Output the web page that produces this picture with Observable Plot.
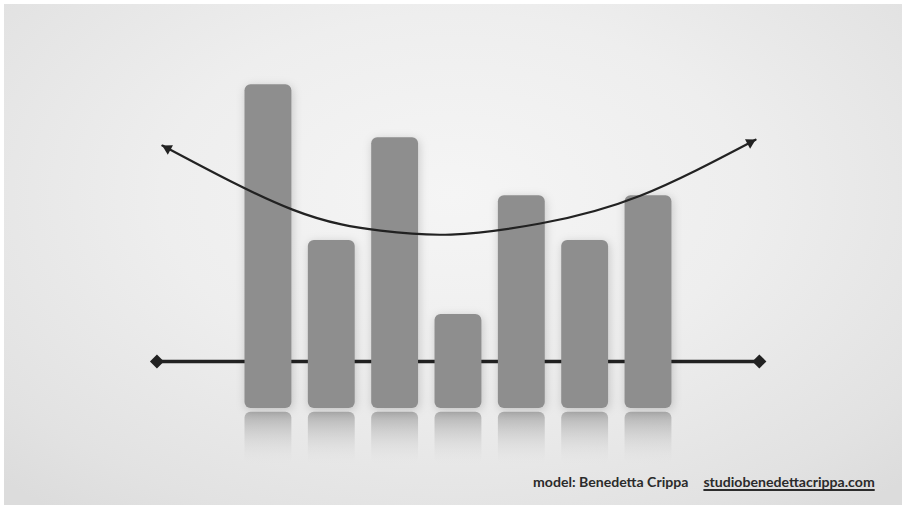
<!DOCTYPE html>
<html>
<head>
<meta charset="utf-8">
<script src="https://cdn.jsdelivr.net/npm/d3@7"></script>
<script src="https://cdn.jsdelivr.net/npm/@observablehq/plot@0.6"></script>
<style>
  html, body { margin: 0; padding: 0; background: #ffffff; }
  #wrap { position: relative; width: 902px; height: 505px; overflow: hidden; }
  #bg { position: absolute; left: 4px; top: 4px; width: 898px; height: 501px;
        background: radial-gradient(ellipse 72% 80% at 50% 38%, #f5f5f5 0%, #eeeeee 45%, #e2e2e2 85%, #dcdcdc 100%); }
  #chart { position: absolute; left: 0; top: 0; }
  #credit { position: absolute; left: 533px; top: 473px; font-family: Lato, "Open Sans", sans-serif;
            font-weight: 700; font-size: 14.1px; color: #2b2b2b; white-space: nowrap; }
  #credit a { color: #2b2b2b; text-decoration: underline; text-decoration-thickness: 1.5px;
              text-underline-offset: 2px; margin-left: 15px; }
</style>
</head>
<body>
<div id="wrap">
  <div id="bg"></div>
  <div id="chart"></div>
  <div id="credit">model: Benedetta Crippa<a>studiobenedettacrippa.com</a></div>
</div>
<script>
// ---- data ----
const categories = ["A", "B", "C", "D", "E", "F", "G"];
const values = [10.0, 5.19, 8.36, 2.90, 6.57, 5.19, 6.57];

const baselineX = [-1.76, 7.75];
const baselineY = [1.45, 1.45];

const curveX = [-1.674, 0.38, 1.77, 2.88, 4.29, 5.87, 7.69];
const curveY = [8.12, 6.14, 5.49, 5.37, 5.71, 6.57, 8.30];

// ---- derived tables ----
const xDomain = [-4.23, 10.01];
const yDomain = [-3.0, 12.6];
const W = 902, H = 505;
const kx = W / (xDomain[1] - xDomain[0]);
const ky = H / (yDomain[1] - yDomain[0]);

const bars = categories.map((c, i) => ({cat: c, i, v: values[i]}));
const halfW = 0.37;
const baseline = baselineX.map((x, i) => ({x, y: baselineY[i]}));
const curve = curveX.map((x, i) => ({x, y: curveY[i]}));

function arrowHead(tip, prev) {
  const dx = (tip.x - prev.x) * kx;
  const dy = -(tip.y - prev.y) * ky; // screen coords
  const len = Math.hypot(dx, dy);
  const ux = dx / len, uy = dy / len;
  const back = 6.0;
  return {
    x: tip.x - back * ux / kx,
    y: tip.y + back * uy / ky,
    rot: Math.atan2(ux, -uy) * 180 / Math.PI
  };
}
// direction taken from a point on the curve ~80px before each tip
const heads = [
  arrowHead(curve[0], {x: -0.44, y: 6.79}),
  arrowHead(curve[curve.length - 1], {x: 6.51, y: 7.04})
];

const fig = Plot.plot({
  width: W,
  height: H,
  margin: 0,
  style: {background: "transparent", overflow: "visible"},
  x: {domain: xDomain, axis: null},
  y: {domain: yDomain, axis: null},
  marks: [
    // reflections
    Plot.rectY(bars, {x1: d => d.i - halfW, x2: d => d.i + halfW, y1: -0.12, y2: -1.75,
      fill: "url(#refl)", rx: 6}),
    // baseline
    Plot.line(baseline, {x: "x", y: "y", stroke: "#222222", strokeWidth: 3.5}),
    Plot.dot(baseline, {x: "x", y: "y", symbol: "square", rotate: 45, r: 5.6, fill: "#222222", stroke: "none"}),
    // bars
    Plot.rectY(bars, {x1: d => d.i - halfW, x2: d => d.i + halfW, y1: 0, y2: "v",
      fill: "#8e8e8e", rx: 6}),
    // curve
    Plot.line(curve, {x: "x", y: "y", curve: "natural", stroke: "#222222", strokeWidth: 2.2}),
    Plot.dot(heads, {x: "x", y: "y", rotate: "rot", symbol: "triangle", r: 4, fill: "#222222", stroke: "none"})
  ]
});

const svg = d3.select(fig);
const defs = svg.insert("defs", ":first-child");
const g = defs.append("linearGradient").attr("id", "refl")
  .attr("x1", 0).attr("y1", 0).attr("x2", 0).attr("y2", 1);
g.append("stop").attr("offset", "0%").attr("stop-color", "#9a9a9a").attr("stop-opacity", 0.75);
g.append("stop").attr("offset", "45%").attr("stop-color", "#bdbdbd").attr("stop-opacity", 0.45);
g.append("stop").attr("offset", "100%").attr("stop-color", "#e0e0e0").attr("stop-opacity", 0);

const rectGroups = svg.selectAll("g[aria-label='rect']").nodes();
if (rectGroups.length > 1) {
  d3.select(rectGroups[1]).style("filter", "drop-shadow(1px 2px 5px rgba(0,0,0,0.18))");
}

document.getElementById("chart").appendChild(fig);
</script>
</body>
</html>
